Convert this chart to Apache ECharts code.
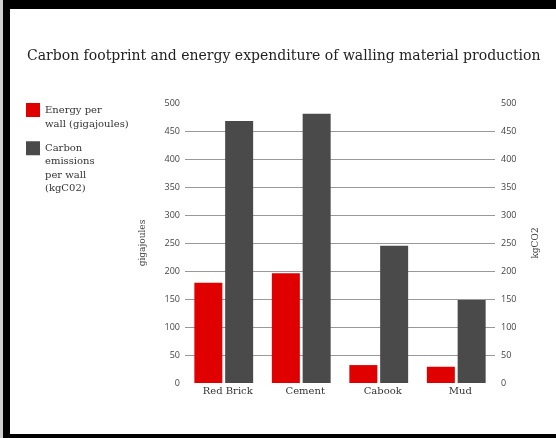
<!DOCTYPE html>
<html>
<head>
<meta charset="utf-8">
<script src="https://cdn.jsdelivr.net/npm/echarts@6/dist/echarts.min.js"></script>
<style>
    html, body { margin: 0; padding: 0; background: #fff; }
    #wrap { position: relative; width: 556px; height: 438px; }
    #chart { position: absolute; left: 0; top: 0; width: 556px; height: 438px; }
    #frame {
        position: absolute; left: 3px; top: 0; width: 553px; height: 438px;
        box-sizing: border-box; pointer-events: none;
        border-left: 7px solid #000; border-top: 9px solid #000; border-bottom: 4px solid #000;
    }
    #edge { position: absolute; left: 0; top: 0; width: 3px; height: 438px; background: #cfcfcf; }
</style>
</head>
<body>
<div id="wrap">
    <div id="chart"></div>
    <div id="edge"></div>
    <div id="frame"></div>
</div>
<script>
const categories = ['Red Brick', 'Cement', 'Cabook', 'Mud'];
const energyPerWall = [179, 196, 32, 29];
const carbonPerWall = [468, 481, 245, 148];
const seriesNames = ['Energy per\nwall (gigajoules)', 'Carbon\nemissions\nper wall\n(kgC02)'];
const axisMin = 0;
const axisMax = 500;
const axisStep = 50;

const serif = '"DejaVu Serif", serif';
const sans = '"Open Sans", "Liberation Sans", sans-serif';

document.addEventListener('DOMContentLoaded', () => {
    const chart = echarts.init(document.getElementById('chart'), null, { renderer: 'canvas' });

    // legend text is centred on the icon, so pad with leading blank lines
    // to bring the first line level with the square
    const topAligned = name => {
        const lines = name.split('\n').length;
        return '\n'.repeat(lines - 1) + name;
    };

    const legendBase = {
        orient: 'vertical',
        left: 21,
        itemWidth: 14,
        itemHeight: 14,
        itemGap: 5,
        selectedMode: false,
        icon: 'rect',
        formatter: topAligned
    };

    const valueAxis = (name, pos, gap) => ({
        type: 'value',
        position: pos,
        min: axisMin,
        max: axisMax,
        interval: axisStep,
        name: name,
        nameLocation: 'middle',
        nameRotate: 90,
        nameGap: gap,
        nameTextStyle: { fontFamily: serif, fontSize: 9, color: '#444' },
        axisLine: { show: false },
        axisTick: { show: false },
        axisLabel: { fontFamily: sans, fontSize: 9, color: '#444', margin: pos === 'left' ? 5 : 6 },
        splitLine: pos === 'left' ? {
            show: true,
            showMinLine: false,
            showMaxLine: false,
            lineStyle: { color: '#999', width: 1 }
        } : { show: false }
    });

    const option = {
        animation: false,
        title: {
            text: 'Carbon footprint and energy expenditure of walling material production',
            left: 22,
            top: 44,
            textStyle: { fontFamily: serif, fontSize: 14, fontWeight: 'normal', color: '#222' }
        },
        legend: [
            Object.assign({}, legendBase, {
                top: 84,
                data: [seriesNames[0]],
                textStyle: { fontFamily: serif, fontSize: 10, lineHeight: 14, color: '#333' }
            }),
            Object.assign({}, legendBase, {
                top: 96,
                data: [seriesNames[1]],
                textStyle: { fontFamily: serif, fontSize: 10, lineHeight: 13.5, color: '#333' }
            })
        ],
        grid: {
            left: 185,
            right: 61,
            top: 103,
            bottom: 55,
            containLabel: false
        },
        xAxis: {
            type: 'category',
            data: categories,
            axisLine: { show: false },
            axisTick: { show: false },
            axisLabel: { fontFamily: serif, fontSize: 10, color: '#333', margin: 3, padding: [0, 0, 0, 8] }
        },
        yAxis: [
            valueAxis('gigajoules', 'left', 38),
            valueAxis('kgCO2', 'right', 36)
        ],
        series: [
            {
                name: seriesNames[0],
                type: 'bar',
                yAxisIndex: 0,
                data: energyPerWall,
                barWidth: 28,
                barGap: '10%',
                itemStyle: { color: '#e00000' }
            },
            {
                name: seriesNames[1],
                type: 'bar',
                yAxisIndex: 1,
                data: carbonPerWall,
                barWidth: 28,
                barGap: '10%',
                itemStyle: { color: '#4a4a4a' }
            }
        ]
    };

    chart.setOption(option);
});
</script>
</body>
</html>
